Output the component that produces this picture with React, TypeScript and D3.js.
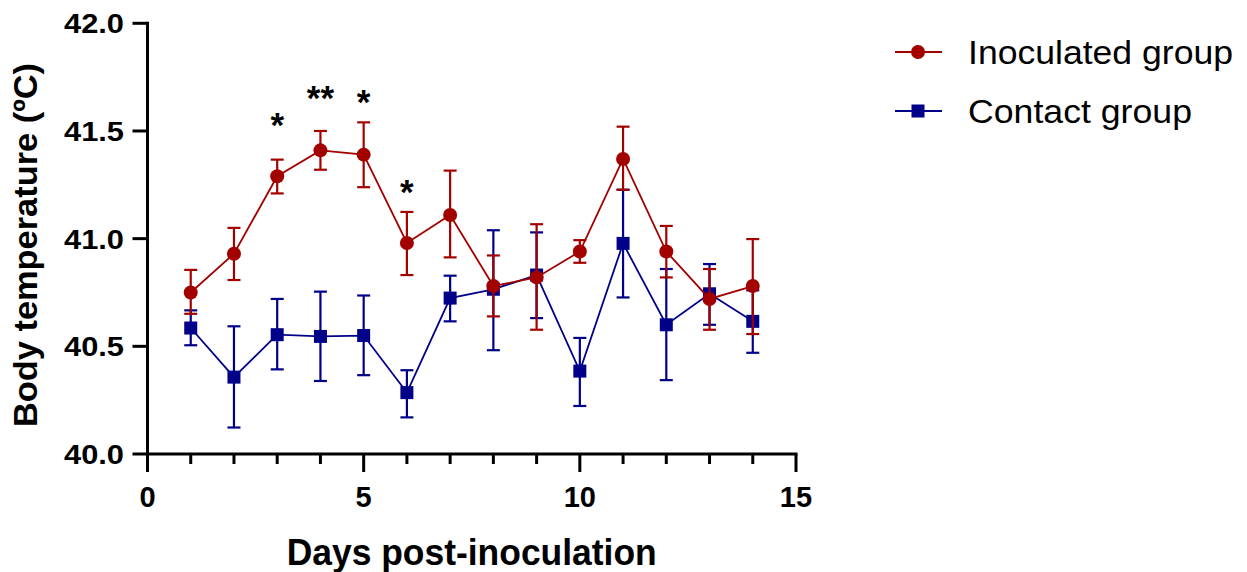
import React from "react";
import * as d3 from "d3";

const days = [1, 2, 3, 4, 5, 6, 7, 8, 9, 10, 11, 12, 13, 14];
const inocMean = [40.75, 40.93, 41.29, 41.41, 41.39, 40.98, 41.11, 40.78, 40.82, 40.94, 41.37, 40.94, 40.72, 40.78];
const inocUpper = [40.855, 41.05, 41.367, 41.5, 41.54, 41.124, 41.316, 40.922, 41.067, 40.993, 41.52, 41.059, 40.859, 40.998];
const inocLower = [40.651, 40.808, 41.21, 41.32, 41.239, 40.831, 40.913, 40.639, 40.577, 40.888, 41.227, 40.82, 40.577, 40.557];
const contMean = [40.585, 40.357, 40.554, 40.546, 40.55, 40.285, 40.724, 40.765, 40.831, 40.385, 40.978, 40.6, 40.744, 40.616];
const contUpper = [40.667, 40.593, 40.72, 40.754, 40.736, 40.389, 40.828, 41.039, 41.029, 40.539, 41.227, 40.859, 40.882, 40.76];
const contLower = [40.505, 40.123, 40.393, 40.339, 40.366, 40.17, 40.616, 40.482, 40.631, 40.223, 40.727, 40.343, 40.6, 40.47];
const starDays = [3, 4, 5, 6];
const starLabels = ["*", "**", "*", "*"];
const starValues = [41.565, 41.69, 41.672, 41.255];
const xTicks = [0, 5, 10, 15];
const xMinorTicks = [1, 2, 3, 4, 6, 7, 8, 9, 11, 12, 13, 14];
const yTicks = [40.0, 40.5, 41.0, 41.5, 42.0];
const seriesNames = ["Inoculated group", "Contact group"];

const RED = "#A30000";
const BLUE = "#000088";
const FONT = "'Liberation Sans', Arial, sans-serif";

export default function App() {
  const W = 1247, H = 572;
  const x = d3.scaleLinear().domain([0, 15]).range([147.5, 796]);
  const y = d3.scaleLinear().domain([40, 42]).range([454, 23.3]);
  const line = d3.line<number>().x((_, i) => x(days[i])).y((v) => y(v));

  const series = [
    { name: seriesNames[1], color: BLUE, mean: contMean, up: contUpper, lo: contLower, shape: "square" },
    { name: seriesNames[0], color: RED, mean: inocMean, up: inocUpper, lo: inocLower, shape: "circle" },
  ];
  const cap = 6.5;

  return (
    <svg width={W} height={H} style={{ position: "absolute", left: 0, top: 0, background: "#fff" }} fontFamily={FONT}>
      <rect x={0} y={0} width={W} height={H} fill="#fff" />
      {series.map((s) => (
        <g key={s.name}>
          <path d={line(s.mean) || ""} fill="none" stroke={s.color} strokeWidth={1.8} />
          {days.map((d, i) => (
            <g key={d} stroke={s.color} strokeWidth={2.2}>
              <line x1={x(d)} x2={x(d)} y1={y(s.up[i])} y2={y(s.lo[i])} />
              <line x1={x(d) - cap} x2={x(d) + cap} y1={y(s.up[i])} y2={y(s.up[i])} />
              <line x1={x(d) - cap} x2={x(d) + cap} y1={y(s.lo[i])} y2={y(s.lo[i])} />
            </g>
          ))}
          {days.map((d, i) =>
            s.shape === "circle" ? (
              <circle key={d} cx={x(d)} cy={y(s.mean[i])} r={7} fill={s.color} />
            ) : (
              <rect key={d} x={x(d) - 6.5} y={y(s.mean[i]) - 6.5} width={13} height={13} fill={s.color} />
            )
          )}
        </g>
      ))}

      {starDays.map((d, i) => (
        <text key={d} x={x(d)} y={y(starValues[i]) + 20} textAnchor="middle" fontSize={35} fontWeight="bold" fill="#000">
          {starLabels[i]}
        </text>
      ))}

      {/* axes */}
      <g stroke="#000" strokeWidth={3}>
        <line x1={x(0)} x2={x(0)} y1={y(42) - 1.5} y2={y(40)} />
        <line x1={x(0) - 1.5} x2={x(15) + 1.5} y1={y(40)} y2={y(40)} />
        {yTicks.map((t) => (
          <line key={t} x1={x(0) - 15} x2={x(0)} y1={y(t)} y2={y(t)} />
        ))}
        {xTicks.map((t) => (
          <line key={t} x1={x(t)} x2={x(t)} y1={y(40)} y2={y(40) + 18} />
        ))}
        {xMinorTicks.map((t) => (
          <line key={t} x1={x(t)} x2={x(t)} y1={y(40)} y2={y(40) + 10} />
        ))}
      </g>
      {yTicks.map((t) => (
        <text key={t} x={124} y={y(t) + 10} textAnchor="end" fontSize={28} fontWeight="bold" fill="#000" textLength={60} lengthAdjust="spacingAndGlyphs">
          {d3.format(".1f")(t)}
        </text>
      ))}
      {xTicks.map((t) => (
        <text key={t} x={x(t)} y={507} textAnchor="middle" fontSize={29} fontWeight="bold" fill="#000">
          {t}
        </text>
      ))}
      <text x={471.7} y={565} textAnchor="middle" fontSize={36} fontWeight="bold" fill="#000" textLength={370} lengthAdjust="spacingAndGlyphs">
        Days post-inoculation
      </text>
      <text transform="translate(37,245) rotate(-90)" textAnchor="middle" fontSize={34} fontWeight="bold" fill="#000" textLength={364} lengthAdjust="spacingAndGlyphs">
        Body temperature (ºC)
      </text>

      {/* legend */}
      {[series[1], series[0]].map((s, i) => {
        const cy = i === 0 ? 52 : 111;
        return (
          <g key={s.name}>
            <line x1={895} x2={942} y1={cy} y2={cy} stroke={s.color} strokeWidth={2} />
            {s.shape === "circle" ? (
              <circle cx={918} cy={cy} r={7} fill={s.color} />
            ) : (
              <rect x={918 - 6.5} y={cy - 6.5} width={13} height={13} fill={s.color} />
            )}
            <text x={968} y={cy + 11.5} fontSize={33} fill="#000" textLength={i === 0 ? 265 : 224} lengthAdjust="spacingAndGlyphs">
              {s.name}
            </text>
          </g>
        );
      })}
    </svg>
  );
}
